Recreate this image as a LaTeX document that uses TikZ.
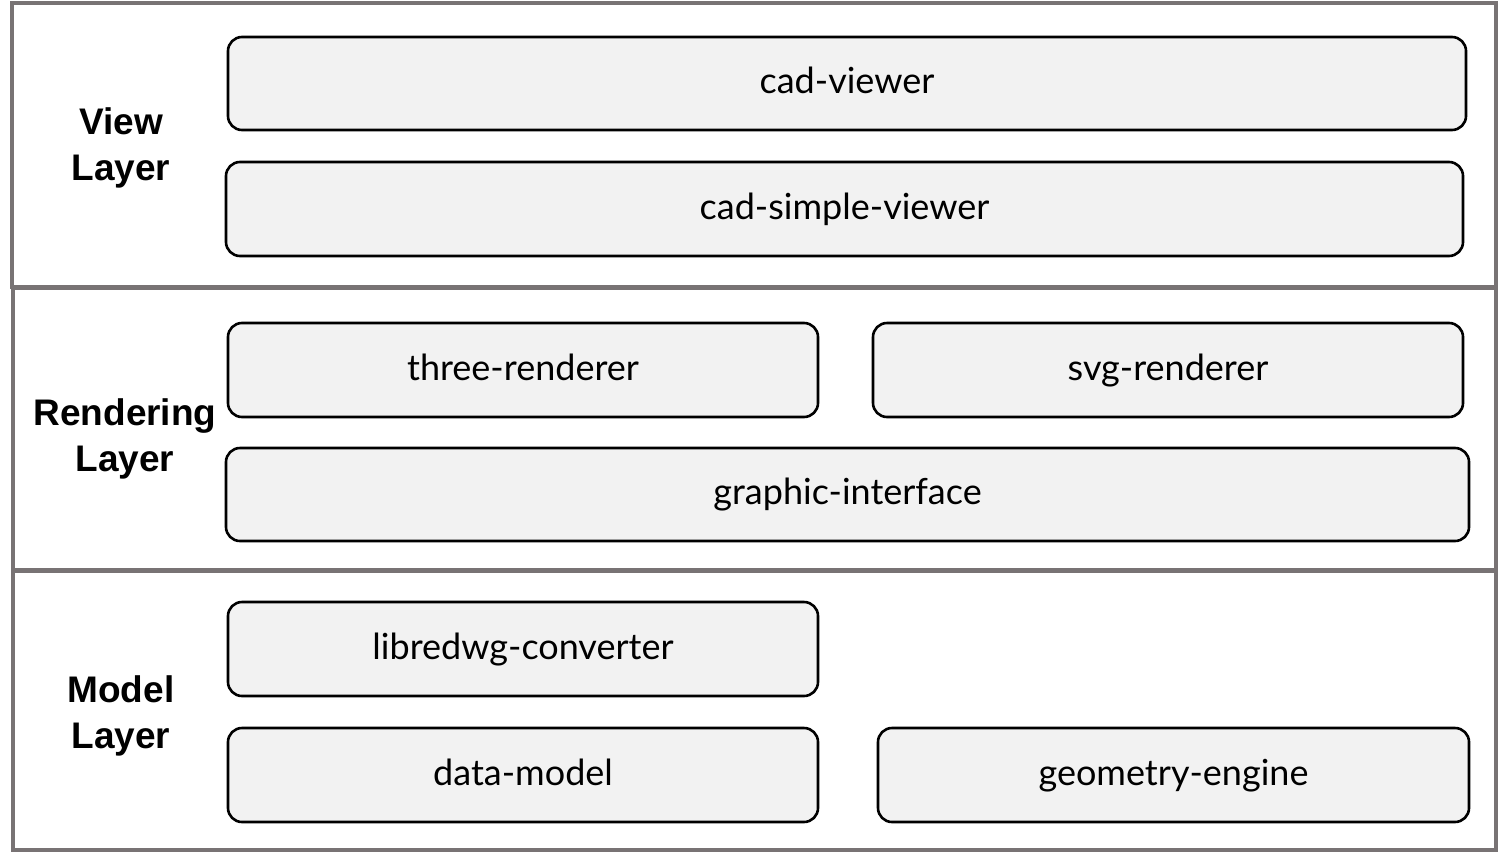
\documentclass[tikz,border=0pt]{standalone}
\usepackage{fontspec}
\setmainfont{Lato}
\newfontfamily\labelfont{Liberation Sans}
\usepackage{tikz}
\definecolor{layergray}{HTML}{787374}
\definecolor{boxfill}{HTML}{F2F2F2}

\begin{document}
\begin{tikzpicture}[x=1pt, y=-1pt,
    layer/.style={draw=layergray, line width=4pt},
    box/.style={draw=black, line width=2.6pt, fill=boxfill, rounded corners=14pt,
        inner sep=0pt, text height=26pt, text depth=6pt,
        font=\fontsize{36}{40}\selectfont},
    layerlabel/.style={align=center, font=\labelfont\bfseries\fontsize{37}{46}\selectfont}]

    \useasboundingbox (0, 0) rectangle (1501, 854);

    % layers
    \draw [layer] (12, 3) rectangle (1496, 287);
    \draw [layer] (13, 288) rectangle (1496, 570);
    \draw [layer] (13, 571) rectangle (1496, 850);

    \node [layerlabel] (view) at (121, 148) {View\\Layer};
    \node [layerlabel] (render) at (125, 439) {Rendering\\Layer};
    \node [layerlabel] (model) at (121, 716) {Model\\Layer};

    % view layer
    \node [box, minimum width=1238pt, minimum height=93pt] (viewer) at (847, 83.5) {cad-viewer};
    \node [box, minimum width=1237pt, minimum height=94pt] (simple) at (844.5, 209) {cad-simple-viewer};

    % rendering layer
    \node [box, minimum width=590pt, minimum height=94pt] (three) at (523, 370) {three-renderer};
    \node [box, minimum width=590pt, minimum height=94pt] (svg) at (1168, 370) {svg-renderer};
    \node [box, minimum width=1243pt, minimum height=93pt] (graphic) at (847.5, 494.5) {graphic-interface};

    % model layer
    \node [box, minimum width=590pt, minimum height=94pt] (libre) at (523, 649) {libredwg-converter};
    \node [box, minimum width=590pt, minimum height=94pt] (data) at (523, 775) {data-model};
    \node [box, minimum width=591pt, minimum height=94pt] (geom) at (1173.5, 775) {geometry-engine};

\end{tikzpicture}
\end{document}
